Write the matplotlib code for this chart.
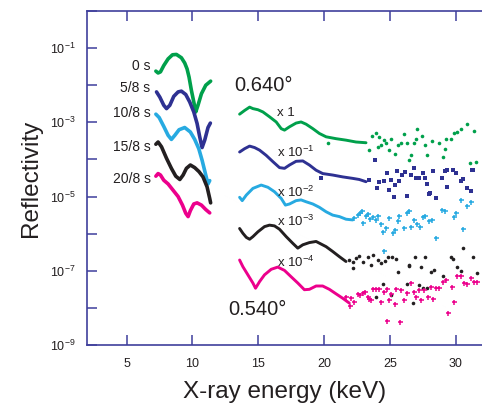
import numpy as np
import matplotlib
matplotlib.use("Agg")
import matplotlib.pyplot as plt
from matplotlib.ticker import FixedLocator, FuncFormatter, NullLocator

plt.rcParams["font.family"] = ["Liberation Sans", "DejaVu Sans"]
plt.rcParams["mathtext.fontset"] = "custom"
plt.rcParams["mathtext.rm"] = "Liberation Sans"
plt.rcParams["mathtext.it"] = "Liberation Sans:italic"

# colours of the five time steps
colors = ["#00a04b", "#2e3192", "#27aae1", "#231f20", "#ec008c"]
time_labels = ["0 s", "5/8 s", "10/8 s", "15/8 s", "20/8 s"]
scale_labels = ["x 1", "x 10$^{-1}$", "x 10$^{-2}$", "x 10$^{-3}$", "x 10$^{-4}$"]

# ---- 0.540 deg curves (left group), energy keV / log10 reflectivity ----
left_x = [
    [7.23, 7.40, 7.58, 7.83, 8.16, 8.49, 8.79, 9.17, 9.42, 9.60, 9.75, 9.93, 10.11, 10.26, 10.43, 10.69, 11.02, 11.39],
    [7.28, 7.53, 7.83, 8.04, 8.29, 8.59, 8.92, 9.17, 9.50, 9.80, 10.11, 10.36, 10.56, 10.74, 10.94, 11.19, 11.37],
    [7.23, 7.48, 7.83, 8.16, 8.41, 8.67, 8.99, 9.42, 9.85, 10.18, 10.49, 10.74, 11.02, 11.19, 11.32],
    [7.23, 7.40, 7.66, 8.04, 8.41, 8.74, 9.05, 9.30, 9.55, 9.85, 10.18, 10.51, 10.81, 11.12, 11.32, 11.39],
    [7.23, 7.40, 7.58, 7.83, 8.16, 8.54, 8.92, 9.25, 9.50, 9.68, 9.85, 10.11, 10.36, 10.69, 11.02, 11.32],
]
left_logr = [
    [-1.62, -1.67, -1.64, -1.47, -1.29, -1.18, -1.17, -1.26, -1.40, -1.56, -1.78, -2.14, -2.45, -2.72, -2.54, -2.23, -2.00, -1.89],
    [-2.18, -2.32, -2.54, -2.63, -2.54, -2.30, -2.18, -2.16, -2.25, -2.45, -2.72, -3.03, -3.39, -3.68, -3.48, -3.14, -3.02],
    [-2.78, -2.87, -3.11, -3.35, -3.46, -3.35, -3.20, -3.14, -3.26, -3.46, -3.71, -4.02, -4.42, -4.66, -4.57],
    [-3.59, -3.53, -3.66, -3.97, -4.24, -4.45, -4.54, -4.42, -4.24, -4.15, -4.22, -4.33, -4.47, -4.74, -5.05, -5.17],
    [-4.45, -4.38, -4.42, -4.56, -4.66, -4.83, -5.00, -5.23, -5.45, -5.54, -5.38, -5.20, -5.17, -5.23, -5.35, -5.44],
]

# ---- 0.640 deg curves (right group), dense low-energy part ----
right_x = [
    [13.59, 13.97, 14.35, 14.60, 14.98, 15.36, 15.86, 16.37, 16.75, 17.00, 17.38, 17.88, 18.26, 18.64, 19.15, 19.65, 20.16, 20.91, 21.67, 22.43, 23.19],
    [13.59, 13.97, 14.35, 14.73, 15.11, 15.61, 16.12, 16.62, 17.00, 17.38, 17.88, 18.39, 18.89, 19.40, 19.90, 20.66, 21.42, 22.18, 22.68, 23.19],
    [13.59, 13.79, 14.10, 14.60, 15.23, 15.74, 16.24, 16.75, 17.07, 17.38, 17.88, 18.26, 18.64, 19.15, 19.65, 20.16, 20.66, 21.17, 21.67, 22.18],
    [13.59, 13.84, 14.10, 14.35, 14.60, 14.98, 15.48, 15.86, 16.24, 16.62, 17.13, 17.63, 18.01, 18.39, 18.89, 19.40, 19.78, 20.16, 20.66, 21.17, 21.67],
    [13.59, 13.84, 14.22, 14.60, 14.80, 15.11, 15.48, 15.99, 16.49, 17.00, 17.50, 18.01, 18.51, 18.89, 19.40, 19.90, 20.41, 20.91, 21.42, 21.92],
]
right_logr = [
    [-2.78, -2.68, -2.59, -2.63, -2.66, -2.72, -2.85, -2.99, -3.17, -3.21, -3.12, -3.02, -2.99, -3.05, -3.17, -3.30, -3.39, -3.44, -3.48, -3.53, -3.55],
    [-3.80, -3.71, -3.64, -3.68, -3.75, -3.89, -4.06, -4.22, -4.24, -4.15, -4.05, -4.04, -4.15, -4.29, -4.38, -4.42, -4.47, -4.51, -4.54, -4.60],
    [-5.02, -5.11, -4.96, -4.78, -4.69, -4.75, -4.87, -5.05, -5.23, -5.20, -5.11, -5.09, -5.14, -5.20, -5.29, -5.41, -5.50, -5.54, -5.61, -5.63],
    [-5.86, -5.99, -6.10, -6.15, -6.08, -5.95, -5.81, -5.77, -5.79, -5.88, -6.08, -6.26, -6.39, -6.30, -6.24, -6.21, -6.28, -6.35, -6.48, -6.62, -6.75],
    [-6.71, -6.89, -7.11, -7.33, -7.47, -7.29, -7.11, -6.96, -6.90, -6.99, -7.16, -7.33, -7.51, -7.50, -7.41, -7.41, -7.50, -7.62, -7.74, -7.87],
]

# ---- 0.640 deg curves, scattered high-energy points ----
scatter_x = [
    [20.28, 23.44, 23.64, 23.94, 24.20, 24.07, 24.32, 24.58, 24.70, 24.90, 25.08, 25.41, 25.59, 25.84, 26.09, 26.27,
     26.42, 26.60, 26.85, 26.97, 27.10, 27.48, 27.68, 27.86, 28.24, 28.74, 29.00, 29.25, 29.20, 29.63, 29.88, 30.13,
     30.38, 30.84, 31.06, 31.39, 31.52],
    [19.78, 23.89, 23.40, 23.99, 24.20, 24.58, 24.75, 24.90, 25.08, 25.28, 25.41, 25.54, 25.71, 25.91, 26.17, 26.34,
     26.60, 26.80, 26.97, 27.18, 27.53, 27.68, 27.86, 28.06, 28.29, 28.49, 28.94, 29.17, 29.37, 29.80, 30.00, 30.38,
     30.56, 30.84, 31.14, 31.32, 27.98, 29.37, 30.89, 31.27],
    [22.30, 22.55, 22.76, 22.88, 22.98, 23.19, 23.36, 23.51, 23.69, 23.94, 24.07, 24.32, 24.45, 24.70, 24.95, 25.21,
     25.41, 25.59, 25.71, 26.09, 26.27, 26.42, 26.60, 26.85, 27.10, 27.28, 27.53, 27.68, 27.98, 28.24, 28.49, 28.94,
     29.20, 29.88, 30.00, 30.38, 30.56, 30.89, 31.14, 24.58],
    [21.92, 22.18, 22.43, 22.68, 22.93, 23.31, 23.57, 23.74, 24.07, 24.32, 24.65, 24.83, 25.16, 25.46, 25.59, 26.47,
     26.92, 27.35, 27.68, 28.11, 28.36, 29.63, 29.80, 30.13, 30.38, 30.56, 31.32, 22.23, 26.42, 29.00, 31.60, 24.45,
     25.08, 23.94, 26.27, 27.18, 27.53, 27.86, 26.77],
    [21.67, 22.05, 21.97, 22.30, 22.55, 22.76, 22.93, 23.14, 23.31, 23.44, 23.57, 23.74, 23.94, 24.20, 24.32, 24.58,
     24.75, 24.90, 25.08, 25.46, 25.41, 25.84, 26.09, 26.27, 26.60, 26.85, 26.97, 27.18, 27.35, 27.61, 27.93, 28.11,
     28.31, 28.54, 28.74, 29.05, 29.25, 29.45, 29.70, 29.88, 30.13, 30.38, 30.64, 30.89, 31.14, 31.39, 31.65, 24.75,
     25.76],
]
scatter_logr = [
    [-3.57, -3.75, -3.37, -3.28, -3.39, -3.66, -3.62, -3.48, -3.57, -3.75, -3.46, -3.84, -3.62, -3.57, -3.32, -3.57,
     -4.02, -3.88, -3.57, -3.44, -3.17, -3.37, -3.62, -3.88, -3.50, -3.55, -3.93, -3.46, -3.71, -3.46, -3.28, -3.26,
     -3.19, -3.05, -4.09, -3.23, -4.06],
    [-4.49, -4.02, -4.55, -4.78, -4.60, -4.57, -4.36, -4.81, -4.56, -5.02, -4.69, -4.31, -4.58, -4.42, -4.33, -4.99,
     -4.42, -4.24, -4.51, -4.51, -4.36, -4.51, -4.66, -4.90, -4.31, -5.05, -4.51, -4.31, -4.29, -4.29, -4.36, -4.58,
     -4.53, -4.78, -4.84, -4.29, -4.92, -4.74, -4.78, -4.29],
    [-5.57, -5.50, -5.43, -5.39, -5.72, -5.52, -5.48, -5.61, -5.54, -5.63, -5.52, -5.75, -5.95, -5.86, -5.59, -5.99,
     -5.90, -5.66, -5.52, -5.84, -5.43, -5.39, -5.81, -5.63, -5.75, -5.81, -5.54, -5.52, -5.66, -5.63, -6.11, -5.36,
     -5.39, -5.54, -5.45, -5.09, -5.87, -5.25, -5.16, -6.47],
    [-6.71, -6.75, -6.66, -6.59, -6.75, -6.64, -6.84, -6.57, -6.71, -6.80, -6.73, -6.64, -6.63, -6.68, -7.02, -6.84,
     -6.62, -6.91, -6.62, -7.02, -6.98, -6.62, -6.68, -6.91, -7.00, -6.39, -6.62, -6.93, -6.87, -7.14, -7.07, -7.35,
     -7.65, -7.71, -7.35, -7.38, -7.47, -7.47, -7.87],
    [-7.71, -7.74, -7.94, -7.85, -7.62, -7.65, -7.60, -7.56, -7.71, -7.76, -7.80, -7.50, -7.50, -7.50, -7.85, -7.56,
     -7.50, -7.78, -7.62, -7.50, -7.89, -7.53, -7.80, -7.60, -7.33, -7.56, -7.71, -7.51, -7.78, -7.51, -7.71, -7.44,
     -7.76, -7.47, -7.47, -7.29, -7.26, -8.14, -7.44, -7.85, -7.14, -7.14, -7.32, -7.35, -7.20, -7.29, -7.29, -8.34,
     -8.39],
]
markers = ["o", "s", "+", "o", "+"]

# label positions (energy keV, log10 R)
time_label_y = [-1.49, -2.07, -2.75, -3.66, -4.54]
scale_label_y = [-2.76, -3.82, -4.89, -5.68, -6.78]

axis_color = "#3f3f9c"

fig = plt.figure(figsize=(4.82, 4.03), dpi=100)
ax = fig.add_axes([0.1805, 0.1439, 0.8195, 0.8288])

for i, c in enumerate(colors):
    ax.plot(left_x[i], 10.0 ** np.array(left_logr[i]), color=c, lw=2.6,
            solid_capstyle="round", solid_joinstyle="round")
    ax.plot(right_x[i], 10.0 ** np.array(right_logr[i]), color=c, lw=2.1,
            solid_capstyle="round", solid_joinstyle="round")
    m = markers[i]
    if m == "+":
        ax.plot(scatter_x[i], 10.0 ** np.array(scatter_logr[i]), ls="none", marker="+",
                ms=3.6, mew=1.1, color=c)
    else:
        ax.plot(scatter_x[i], 10.0 ** np.array(scatter_logr[i]), ls="none", marker=m,
                ms=2.6, mew=0, color=c)
    ax.text(6.83, 10.0 ** time_label_y[i], time_labels[i], ha="right", va="center",
            fontsize=10, color="#231f20")
    ax.text(16.42, 10.0 ** scale_label_y[i], scale_labels[i], ha="left", va="center",
            fontsize=9.5, color="#231f20")

ax.text(13.21, 10.0 ** -2.0, "0.640°", ha="left", va="center", fontsize=14.5, color="#231f20")
ax.text(12.76, 10.0 ** -8.05, "0.540°", ha="left", va="center", fontsize=14.5, color="#231f20")

ax.set_yscale("log")
ax.set_xlim(2, 32)
ax.set_ylim(1e-9, 1)

ax.xaxis.set_major_locator(FixedLocator([5, 10, 15, 20, 25, 30]))
ax.xaxis.set_minor_locator(NullLocator())
ax.yaxis.set_major_locator(FixedLocator([10.0 ** k for k in range(-9, 1)]))
ax.yaxis.set_minor_locator(NullLocator())


def ylabel_fmt(v, pos):
    k = int(round(np.log10(v)))
    if k % 2 == 0:
        return ""
    return "10$^{%d}$" % k


ax.yaxis.set_major_formatter(FuncFormatter(ylabel_fmt))
ax.tick_params(axis="both", which="major", direction="in", length=7, width=1.1,
               color=axis_color, labelsize=9, labelcolor="#231f20", top=True, right=False)
ax.tick_params(axis="x", pad=9)
ax.tick_params(axis="y", pad=8)

for side in ["left", "bottom", "top"]:
    ax.spines[side].set_color(axis_color)
    ax.spines[side].set_linewidth(1.2)
ax.spines["right"].set_visible(False)

ax.set_xlabel("X-ray energy (keV)", fontsize=17.5, color="#231f20", labelpad=8)
ax.set_ylabel("Reflectivity", fontsize=17.5, color="#231f20", labelpad=6)

fig.savefig("out.png", dpi=100)
